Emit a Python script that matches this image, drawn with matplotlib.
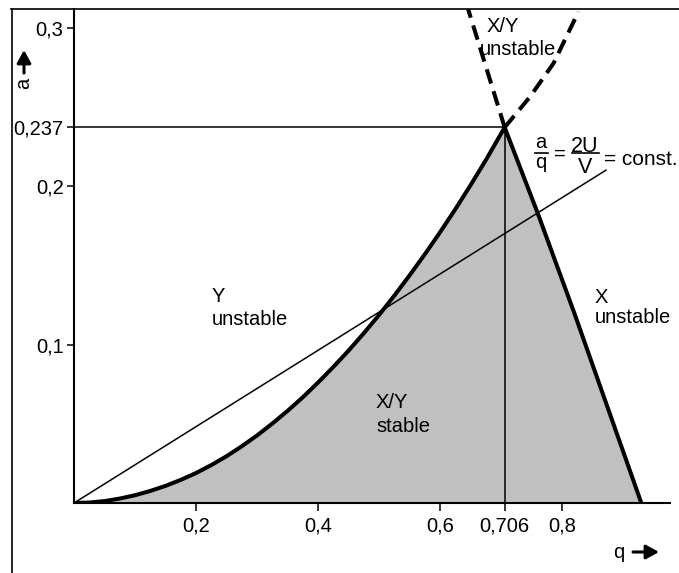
import matplotlib
matplotlib.use("Agg")
import matplotlib.pyplot as plt
from matplotlib.lines import Line2D

plt.rcParams["font.family"] = ["Liberation Sans", "DejaVu Sans"]

# Lower-left boundary of the stable region (beta_y = 0)
left_q = [0, 0.025, 0.05, 0.075, 0.10, 0.125, 0.15, 0.175, 0.20, 0.225, 0.25, 0.275,
          0.30, 0.325, 0.35, 0.375, 0.40, 0.425, 0.45, 0.475, 0.50, 0.525, 0.55,
          0.575, 0.60, 0.625, 0.65, 0.675, 0.706]
left_a = [0, 0.0003, 0.0012, 0.0028, 0.0049, 0.0076, 0.0108, 0.0146, 0.0189, 0.0239,
          0.0295, 0.0358, 0.0426, 0.0501, 0.0581, 0.0667, 0.0760, 0.0858, 0.0961,
          0.1071, 0.1186, 0.1308, 0.1436, 0.1569, 0.1708, 0.1853, 0.2005, 0.2163, 0.237]

# Right boundary of the stable region (beta_x = 1)
right_q = [0.706, 0.76, 0.82, 0.875, 0.93]
right_a = [0.237, 0.183, 0.12, 0.06, 0.0]

# Continuations of both boundaries above the apex
dash_left_q = [0.706, 0.646]
dash_left_a = [0.237, 0.3117]
dash_right_q = [0.706, 0.7475, 0.786, 0.827]
dash_right_a = [0.237, 0.2563, 0.2774, 0.310]

# Operating line a/q = 2U/V = const.
line_q = [0, 0.872]
line_a = [0, 0.210]

# Apex of the stability diagram
apex_q, apex_a = 0.706, 0.237

xticks = [0.2, 0.4, 0.6, 0.706, 0.8]
xticklabels = ["0,2", "0,4", "0,6", "0,706", "0,8"]
yticks = [0.1, 0.2, 0.237, 0.3]
yticklabels = ["0,1", "0,2", "0,237", "0,3"]

W, H = 679, 573
fig = plt.figure(figsize=(W / 100, H / 100), dpi=100)
ax = fig.add_axes([74 / W, 70 / H, 596 / W, 494 / H])
ax.set_xlim(0, 0.977)
ax.set_ylim(0, 0.3117)

# stable region
poly_q = left_q + right_q[1:]
poly_a = left_a + right_a[1:]
ax.fill(poly_q, poly_a, color="#c0c0c0", lw=0, zorder=1)

thick = 2.9
style = dict(color="black", lw=thick, solid_capstyle="butt", solid_joinstyle="round", zorder=4)
ax.plot(left_q, left_a, **style)
ax.plot(right_q, right_a, **style)
dash = dict(color="black", lw=thick, ls=(0, (3.7, 2.0)), dash_capstyle="butt", zorder=4)
ax.plot(dash_left_q, dash_left_a, **dash)
ax.plot(dash_right_q, dash_right_a, **dash)

# operating line and apex guides
ax.plot(line_q, line_a, color="black", lw=1.1, zorder=3)
ax.plot([0, apex_q], [apex_a, apex_a], color="black", lw=1.1, zorder=3)
ax.plot([apex_q, apex_q], [0, apex_a], color="black", lw=1.1, zorder=3)

for side in ("top", "right"):
    ax.spines[side].set_visible(False)
for side in ("left", "bottom"):
    ax.spines[side].set_linewidth(1.5)

ax.set_xticks(xticks)
ax.set_xticklabels(xticklabels)
ax.set_yticks(yticks)
ax.set_yticklabels(yticklabels)
ax.tick_params(axis="x", direction="out", length=5.5, width=1.1, pad=4, labelsize=14.5)
ax.tick_params(axis="y", direction="out", length=5, width=1.1, pad=2.5, labelsize=14.5)

fs = 14.5
def label(q, a, s, **kw):
    ax.text(q, a, s, fontsize=fs, ha="left", va="baseline", zorder=5, **kw)

label(0.226, 0.1271, "Y")
label(0.226, 0.1123, "unstable")
label(0.495, 0.0599, "X/Y")
label(0.495, 0.045, "stable")
label(0.854, 0.1262, "X")
label(0.854, 0.1136, "unstable")
label(0.677, 0.2974, "X/Y")
label(0.6656, 0.2826, "unstable")

# a/q = 2U/V = const.
ax.text(0.7656, 0.224, "a", fontsize=fs, ha="center", va="baseline")
ax.text(0.7656, 0.2114, "q", fontsize=fs, ha="center", va="baseline")
ax.plot([0.7557, 0.7770], [0.2208, 0.2208], color="black", lw=1.2)
ax.text(0.7967, 0.2202, "=", fontsize=fs, ha="center", va="center")
ax.text(0.8377, 0.2215, "2U", fontsize=fs + 1, ha="center", va="baseline")
ax.text(0.8377, 0.2082, "V", fontsize=fs + 1, ha="center", va="baseline")
ax.plot([0.8164, 0.8607], [0.2208, 0.2208], color="black", lw=1.2)
ax.text(0.8689, 0.2133, "= const.", fontsize=fs + 0.5, ha="left", va="baseline", clip_on=False)

# axis names with arrows
fig.text(24 / W, 1 - 83 / H, "a", rotation=90, fontsize=fs, ha="center", va="center")
fig.text(613 / W, 1 - 553 / H, "q", fontsize=fs, ha="left", va="center")
arrow = dict(arrowstyle="-|>,head_length=0.55,head_width=0.3", lw=2.2, color="black",
             shrinkA=0, shrinkB=0, mutation_scale=14)
fig.add_artist(matplotlib.patches.FancyArrowPatch((24, H - 73), (24, H - 50),
               transform=None, **arrow))
fig.add_artist(matplotlib.patches.FancyArrowPatch((633, H - 552), (659, H - 552),
               transform=None, **arrow))

# outer frame
fig.add_artist(Line2D([11.5 / W, 11.5 / W], [0, 1 - 9 / H], color="black", lw=1.2,
                      transform=fig.transFigure))
fig.add_artist(Line2D([11 / W, 1], [1 - 9 / H, 1 - 9 / H], color="black", lw=1.2,
                      transform=fig.transFigure))

fig.savefig("out.png", dpi=100)
